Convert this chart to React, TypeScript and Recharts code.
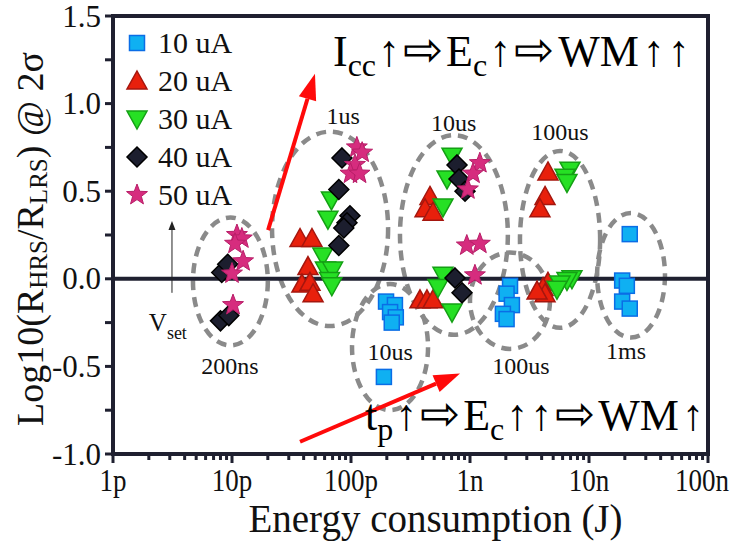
import React from 'react';
import {
  ScatterChart, Scatter, XAxis, YAxis, ReferenceLine, ReferenceArea, ReferenceDot, Legend,
} from 'recharts';

const FONT = '"Liberation Serif", "Times New Roman", serif';
const INK = '#1f2030';

// axis ticks (minor ticks carry no label)
const xTicks = [1e-12, 1e-11, 1e-10, 1e-9, 1e-8, 1e-7];
const xTickLabels = ['1p', '10p', '100p', '1n', '10n', '100n'];
const xMinorTicks = [1e-12, 1e-11, 1e-10, 1e-9, 1e-8].flatMap((d) => [2, 3, 4, 5, 6, 7, 8, 9].map((m) => m * d));
const yTicks = [-1, -0.5, 0, 0.5, 1, 1.5];
const yMinorTicks = [-0.75, -0.25, 0.25, 0.75, 1.25];

// energy (J) vs log10(Rhrs/Rlrs) @ 2 sigma
const uA10 = [
  { e: 1.97e-10, v: -0.13 }, { e: 2.34e-10, v: -0.15 }, { e: 2.13e-10, v: -0.19 },
  { e: 2.38e-10, v: -0.22 }, { e: 2.2e-10, v: -0.25 }, { e: 1.89e-10, v: -0.56 },
  { e: 2.17e-9, v: -0.04 }, { e: 2.03e-9, v: -0.085 }, { e: 2.25e-9, v: -0.15 },
  { e: 1.89e-9, v: -0.2 }, { e: 2.03e-9, v: -0.23 },
  { e: 2.2e-8, v: 0.255 }, { e: 1.9e-8, v: -0.01 }, { e: 2.08e-8, v: -0.04 },
  { e: 1.9e-8, v: -0.13 }, { e: 2.2e-8, v: -0.17 },
];
const uA20 = [
  { e: 3.73e-11, v: 0.23 }, { e: 4.7e-11, v: 0.23 }, { e: 4.35e-11, v: 0.07 },
  { e: 3.87e-11, v: -0.03 }, { e: 4.52e-11, v: -0.02 }, { e: 4.8e-11, v: -0.085 },
  { e: 4.61e-10, v: 0.47 }, { e: 4.19e-10, v: 0.4 }, { e: 4.89e-10, v: 0.38 },
  { e: 3.8e-10, v: -0.12 }, { e: 4.35e-10, v: -0.12 }, { e: 4.89e-10, v: -0.12 },
  { e: 4.52e-9, v: 0.61 }, { e: 4.27e-9, v: 0.47 }, { e: 3.87e-9, v: 0.4 },
  { e: 4.52e-9, v: -0.02 }, { e: 4.11e-9, v: -0.05 }, { e: 4.27e-9, v: -0.085 }, { e: 3.66e-9, v: -0.07 },
];
const uA30 = [
  { e: 6.85e-11, v: 0.45 }, { e: 6.4e-11, v: 0.34 }, { e: 5.8e-11, v: 0.13 },
  { e: 6.1e-11, v: 0.05 }, { e: 7.0e-11, v: 0.05 }, { e: 6.6e-11, v: -0.01 }, { e: 6.9e-11, v: -0.04 },
  { e: 7.06e-10, v: 0.7 }, { e: 6.41e-10, v: 0.57 }, { e: 5.93e-10, v: 0.41 },
  { e: 5.93e-10, v: 0.02 }, { e: 5.38e-10, v: -0.05 }, { e: 7.06e-10, v: -0.19 },
  { e: 6.92e-9, v: 0.62 }, { e: 6.28e-9, v: 0.58 }, { e: 6.53e-9, v: 0.55 },
  { e: 7.19e-9, v: 0.0 }, { e: 6.53e-9, v: -0.01 }, { e: 5.71e-9, v: -0.03 }, { e: 5.38e-9, v: -0.06 },
];
const uA40 = [
  { e: 8.2e-12, v: 0.036 }, { e: 9.2e-12, v: 0.083 }, { e: 8.0e-12, v: -0.24 }, { e: 9.4e-12, v: -0.21 },
  { e: 8.4e-11, v: 0.69 }, { e: 7.9e-11, v: 0.51 }, { e: 9.8e-11, v: 0.36 },
  { e: 9.25e-11, v: 0.32 }, { e: 8.7e-11, v: 0.29 }, { e: 7.9e-11, v: 0.19 },
  { e: 7.78e-10, v: 0.65 }, { e: 8.08e-10, v: 0.57 }, { e: 9.08e-10, v: 0.5 },
  { e: 7.48e-10, v: 0.005 }, { e: 8.57e-10, v: -0.08 },
];
const uA50 = [
  { e: 1.1e-11, v: 0.25 }, { e: 1.21e-11, v: 0.23 }, { e: 1.06e-11, v: 0.2 },
  { e: 1.24e-11, v: 0.1 }, { e: 1.0e-11, v: 0.03 }, { e: 1.02e-11, v: -0.15 },
  { e: 1.12e-10, v: 0.75 }, { e: 1.24e-10, v: 0.72 }, { e: 1.08e-10, v: 0.65 },
  { e: 9.9e-11, v: 0.6 }, { e: 1.18e-10, v: 0.6 },
  { e: 1.21e-9, v: 0.66 }, { e: 1.06e-9, v: 0.6 }, { e: 9.6e-10, v: 0.51 },
  { e: 9.4e-10, v: 0.19 }, { e: 1.21e-9, v: 0.2 }, { e: 1.1e-9, v: 0.02 },
];

// dashed ellipses around each pulse-width group: [x1, x2, y1, y2]
const groups = [
  [4.7e-12, 2.0e-11, -0.38, 0.35],
  [2.17e-11, 2.05e-10, -0.27, 0.84],
  [1.02e-10, 4.44e-10, -0.75, -0.03],
  [2.58e-10, 2.08e-9, -0.32, 0.82],
  [1.0e-9, 4.7e-9, -0.4, 0.15],
  [2.63e-9, 1.24e-8, -0.28, 0.73],
  [1.17e-8, 4.35e-8, -0.335, 0.375],
];
const groupLabels = [
  { e: 9.6e-12, v: -0.5, text: '200ns' },
  { e: 8.6e-11, v: 0.93, text: '1us' },
  { e: 2.13e-10, v: -0.42, text: '10us' },
  { e: 7.3e-10, v: 0.89, text: '10us' },
  { e: 2.68e-9, v: -0.5, text: '100us' },
  { e: 5.7e-9, v: 0.84, text: '100us' },
  { e: 2.05e-8, v: -0.41, text: '1ms' },
];

const Square = ({ cx, cy }: any) => (
  <rect x={cx - 7.5} y={cy - 7.5} width={15} height={15} fill="#0fb0f2" stroke="#0a6de6" strokeWidth={1.5} />
);
const UpTri = ({ cx, cy }: any) => (
  <polygon points={`${cx},${cy - 10} ${cx + 10},${cy + 8} ${cx - 10},${cy + 8}`} fill="#e8200c" stroke="#a5160e" strokeWidth={1.5} />
);
const DownTri = ({ cx, cy }: any) => (
  <polygon points={`${cx - 10},${cy - 8} ${cx + 10},${cy - 8} ${cx},${cy + 10}`} fill="#26e024" stroke="#14a014" strokeWidth={1.5} />
);
const Diamond = ({ cx, cy }: any) => (
  <polygon points={`${cx},${cy - 10} ${cx + 10},${cy} ${cx},${cy + 10} ${cx - 10},${cy}`} fill="#1c1e2e" stroke="#000" strokeWidth={1.5} />
);
const Star = ({ cx, cy }: any) => {
  const pts: string[] = [];
  for (let i = 0; i < 10; i++) {
    const r = i % 2 === 0 ? 11 : 4.6;
    const a = -Math.PI / 2 + (i * Math.PI) / 5;
    pts.push(`${cx + r * Math.cos(a)},${cy + r * Math.sin(a)}`);
  }
  return <polygon points={pts.join(' ')} fill="#d62c7e" stroke="#b81e68" strokeWidth={1} />;
};

const series = [
  { name: '10 uA', data: uA10, Shape: Square },
  { name: '20 uA', data: uA20, Shape: UpTri },
  { name: '30 uA', data: uA30, Shape: DownTri },
  { name: '40 uA', data: uA40, Shape: Diamond },
  { name: '50 uA', data: uA50, Shape: Star },
];

const renderLegend = () => (
  <svg width={140} height={200}>
    {series.map((s, i) => (
      <g key={s.name}>
        <s.Shape cx={15} cy={19 + i * 38} />
        <text x={36} y={19 + i * 38 + 10} fontSize={30} fontFamily={FONT} fill="#111">{s.name}</text>
      </g>
    ))}
  </svg>
);

const ellipseShape = (p: any) => (
  <ellipse
    cx={p.x + p.width / 2} cy={p.y + p.height / 2} rx={p.width / 2} ry={p.height / 2}
    fill="none" stroke="#8a8a8a" strokeWidth={4.5} strokeDasharray="10 7"
  />
);

const arrowShape = (color: string, w: number, head: number, half: number) => (p: any) => {
  const { x1, y1, x2, y2 } = p;
  const a = Math.atan2(y2 - y1, x2 - x1);
  const bx = x2 - head * Math.cos(a);
  const by = y2 - head * Math.sin(a);
  const nx = -Math.sin(a) * half;
  const ny = Math.cos(a) * half;
  return (
    <g>
      <line x1={x1} y1={y1} x2={bx} y2={by} stroke={color} strokeWidth={w} />
      <polygon points={`${x2},${y2} ${bx + nx},${by + ny} ${bx - nx},${by - ny}`} fill={color} />
    </g>
  );
};

const groupText = (text: string) => (p: any) => (
  <text x={p.cx} y={p.cy} textAnchor="middle" dominantBaseline="central" fontSize={24} fontFamily={FONT} fill="#111">{text}</text>
);

const topNote = (p: any) => (
  <text x={p.cx} y={p.cy} fontSize={44} fontFamily={FONT} fill="#000">
    I<tspan dy={10} fontSize={32}>cc</tspan>
    <tspan dy={-10} dx={2}>↑</tspan>
    <tspan dx={3} fontSize={48}>⇨</tspan>
    <tspan dx={3}>E</tspan>
    <tspan dy={10} fontSize={32}>c</tspan>
    <tspan dy={-10} dx={2}>↑</tspan>
    <tspan dx={3} fontSize={48}>⇨</tspan>
    <tspan dx={4}>WM</tspan>
    <tspan dx={4}>↑</tspan>
    <tspan dx={3}>↑</tspan>
  </text>
);

const bottomNote = (p: any) => (
  <text x={p.cx} y={p.cy} fontSize={44} fontFamily={FONT} fill="#000">
    t<tspan dy={10} fontSize={32}>p</tspan>
    <tspan dy={-10} dx={2}>↑</tspan>
    <tspan dx={3} fontSize={48}>⇨</tspan>
    <tspan dx={3}>E</tspan>
    <tspan dy={10} fontSize={32}>c</tspan>
    <tspan dy={-10} dx={2}>↑</tspan>
    <tspan dx={2}>↑</tspan>
    <tspan dx={3} fontSize={48}>⇨</tspan>
    <tspan dx={3}>WM</tspan>
    <tspan dx={3}>↑</tspan>
  </text>
);

const vsetText = (p: any) => (
  <text x={p.cx} y={p.cy} fontSize={25} fontFamily={FONT} fill="#111">
    V<tspan dy={8} fontSize={18}>set</tspan>
  </text>
);

// tick marks are drawn here so major and minor ticks can differ
const XTick = (p: any) => {
  const v = p.payload.value;
  const idx = xTicks.findIndex((t) => Math.abs(t - v) / t < 1e-6);
  const axisY = p.y;
  if (idx < 0) {
    return <line x1={p.x} x2={p.x} y1={axisY} y2={axisY + 6} stroke={INK} strokeWidth={3} />;
  }
  const label = xTickLabels[idx];
  const w = label.length * 13.5;
  const last = p.x + w / 2 > 729;
  return (
    <g>
      <line x1={p.x} x2={p.x} y1={axisY} y2={axisY + 9} stroke={INK} strokeWidth={3} />
      <text
        x={last ? 729 : p.x} y={axisY + 14} textAnchor={last ? 'end' : 'middle'} dominantBaseline="hanging"
        fontSize={32} fontFamily={FONT} fill="#111" textLength={w} lengthAdjust="spacingAndGlyphs"
      >
        {label}
      </text>
    </g>
  );
};

const YTick = (p: any) => {
  const v = p.payload.value;
  const major = yTicks.some((t) => Math.abs(t - v) < 1e-6);
  return (
    <g>
      <line x1={p.x - 8} x2={p.x} y1={p.y} y2={p.y} stroke={INK} strokeWidth={3} />
      {major && (
        <text x={p.x - 12} y={p.y} textAnchor="end" dominantBaseline="central" fontSize={31} fontFamily={FONT} fill="#111">
          {v.toFixed(1)}
        </text>
      )}
    </g>
  );
};

const YLabel = (props: any) => {
  const vb = props.viewBox || { x: 0, y: 16, width: 113, height: 438 };
  const cx = vb.x + 30;
  const cy = vb.y + vb.height / 2 + 4;
  return (
    <text x={cx} y={cy} transform={`rotate(-90 ${cx} ${cy})`} textAnchor="middle" dominantBaseline="central" fontSize={38} fontFamily={FONT} fill="#111">
      Log10(R<tspan dy={8} fontSize={25}>HRS</tspan>
      <tspan dy={-8}>/R</tspan>
      <tspan dy={8} fontSize={25}>LRS</tspan>
      <tspan dy={-8}>) @ 2σ</tspan>
    </text>
  );
};

const XLabel = (props: any) => {
  const vb = props.viewBox || { x: 113, y: 454, width: 595, height: 60 };
  return (
    <text x={vb.x + vb.width / 2 + 25} y={vb.y + 78} textAnchor="middle" fontSize={39} fontFamily={FONT} fill="#111">
      Energy consumption (J)
    </text>
  );
};

export default function App() {
  const allX = [...xTicks, ...xMinorTicks].sort((a, b) => a - b);
  const allY = [...yTicks, ...yMinorTicks].sort((a, b) => a - b);
  return (
    <div style={{ position: 'absolute', left: 0, top: 0, width: 732, height: 546, background: '#fff' }}>
      <ScatterChart width={732} height={546} margin={{ top: 16, right: 24, bottom: 32, left: 0 }}>
        <XAxis
          dataKey="e" type="number" scale="log" domain={[1e-12, 1e-7]} allowDataOverflow
          ticks={allX} interval={0} height={60} tickSize={0} tickMargin={0} tickLine={false}
          tick={<XTick />} axisLine={{ stroke: INK, strokeWidth: 4 }}
          label={{ content: XLabel }}
        />
        <YAxis
          dataKey="v" type="number" domain={[-1, 1.5]} allowDataOverflow ticks={allY} interval={0} width={113}
          tickSize={0} tickMargin={0} tickLine={false} tick={<YTick />}
          axisLine={{ stroke: INK, strokeWidth: 4 }}
          label={{ content: YLabel }}
        />
        <ReferenceArea x1={1e-12} x2={1e-7} y1={-1} y2={1.5} fill="none" stroke={INK} strokeWidth={4} />
        {groups.map((g, i) => (
          <ReferenceArea key={`g${i}`} x1={g[0]} x2={g[1]} y1={g[2]} y2={g[3]} shape={ellipseShape} />
        ))}
        <ReferenceLine y={0} stroke={INK} strokeWidth={4} />
        {series.map((s) => (
          <Scatter
            key={s.name} name={s.name} data={s.data} isAnimationActive={false}
            shape={(p: any) => <s.Shape cx={p.cx} cy={p.cy} />}
          />
        ))}
        {groupLabels.map((l, i) => (
          <ReferenceDot key={`l${i}`} x={l.e} y={l.v} r={0} shape={groupText(l.text)} />
        ))}
        <ReferenceLine segment={[{ x: 2.01e-11, y: 0.278 }, { x: 4.98e-11, y: 1.17 }]} shape={arrowShape('#ff0a0a', 4, 26, 9)} />
        <ReferenceLine segment={[{ x: 3.73e-11, y: -0.93 }, { x: 8.24e-10, y: -0.54 }]} shape={arrowShape('#ff0a0a', 4, 26, 9)} />
        <ReferenceLine segment={[{ x: 3.13e-12, y: -0.08 }, { x: 3.13e-12, y: 0.33 }]} shape={arrowShape('#222', 1, 9, 3.5)} />
        <ReferenceDot x={2.0e-12} y={-0.3} r={0} shape={vsetText} />
        <ReferenceDot x={7.06e-11} y={1.216} r={0} shape={topNote} />
        <ReferenceDot x={1.31e-10} y={-0.864} r={0} shape={bottomNote} />
        <Legend
          layout="vertical" align="center" verticalAlign="middle" content={renderLegend}
          wrapperStyle={{ left: 122, top: 24, width: 140, height: 200 }}
        />
      </ScatterChart>
    </div>
  );
}
